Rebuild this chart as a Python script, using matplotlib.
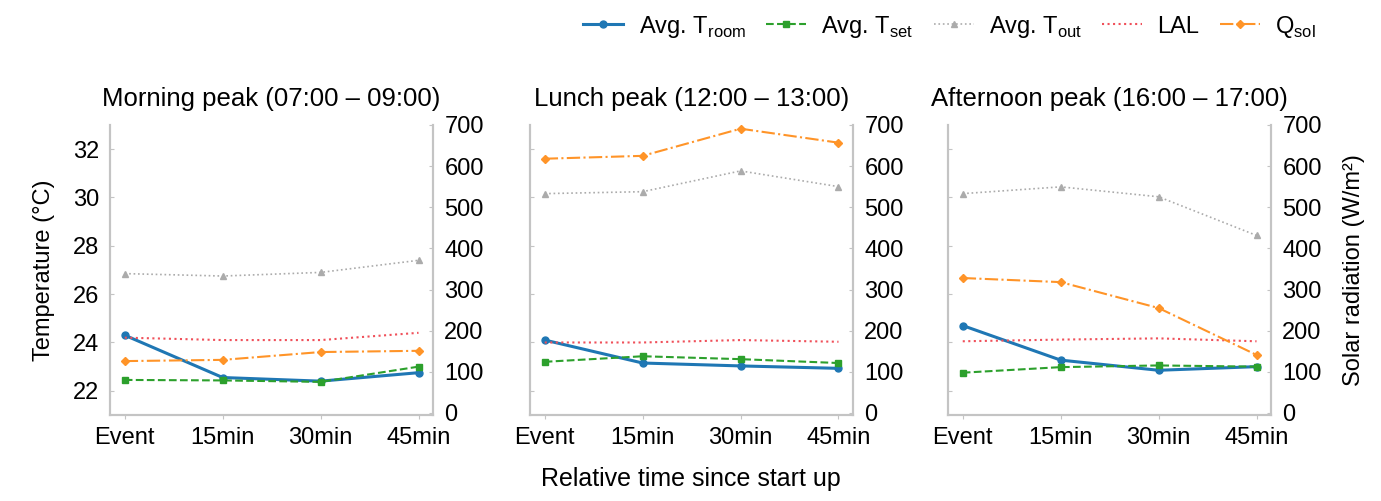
import matplotlib
matplotlib.use("Agg")
import matplotlib.pyplot as plt

plt.rcParams['font.family'] = ['Liberation Sans', 'DejaVu Sans']
plt.rcParams['mathtext.fontset'] = 'custom'
plt.rcParams['mathtext.rm'] = 'Liberation Sans'

steps = ["Event", "15min", "30min", "45min"]
titles = ["Morning peak (07:00 \u2013 09:00)",
          "Lunch peak (12:00 \u2013 13:00)",
          "Afternoon peak (16:00 \u2013 17:00)"]

# temperatures (degC), one list per peak
t_room = [[24.3, 22.55, 22.4, 22.75],
          [24.1, 23.15, 23.03, 22.93],
          [24.7, 23.27, 22.85, 23.0]]
t_set = [[22.45, 22.43, 22.37, 23.0],
         [23.2, 23.43, 23.31, 23.15],
         [22.75, 22.98, 23.05, 23.0]]
t_out = [[26.85, 26.75, 26.9, 27.4],
         [30.16, 30.24, 31.1, 30.45],
         [30.16, 30.44, 30.03, 28.43]]
lal = [[24.2, 24.1, 24.1, 24.4],
       [24.0, 24.0, 24.1, 24.03],
       [24.05, 24.12, 24.17, 24.05]]
# solar radiation (W/m2)
q_sol = [[126, 129, 148, 151],
         [618, 625, 691, 657],
         [328, 318, 255, 141]]

fig = plt.figure(figsize=(13.81, 5.01), dpi=100)
lefts = [0.0797, 0.3838, 0.6865]
spine_col = '#c4c4c4'
fs = 17

for i in range(3):
    ax = fig.add_axes([lefts[i], 0.1717, 0.234, 0.5788])
    ax2 = ax.twinx()
    x = range(len(steps))
    h1, = ax.plot(x, t_room[i], color='#1f77b4', lw=2.2, marker='o', ms=5,
                  label=r'Avg. T$_{\mathregular{room}}$')
    h2, = ax.plot(x, t_set[i], color='#2ca02c', lw=1.5, ls='--', marker='s', ms=4.5,
                  label=r'Avg. T$_{\mathregular{set}}$')
    h3, = ax.plot(x, t_out[i], color='#ababab', lw=1.2, ls=':', marker='^', ms=4.5,
                  label=r'Avg. T$_{\mathregular{out}}$')
    h4, = ax.plot(x, lal[i], color='#f0505a', lw=1.5, ls=':', label='LAL')
    h5, = ax2.plot(x, q_sol[i], color='#ff9428', lw=1.5, ls='-.', marker='D', ms=4.5,
                   label=r'Q$_{\mathregular{sol}}$')

    ax.set_xlim(-0.15, 3.15)
    ax.set_ylim(21, 33)
    ax.set_yticks([22, 24, 26, 28, 30, 32])
    ax2.set_ylim(-5, 700)
    ax2.set_yticks(range(0, 701, 100))
    ax.set_xticks(list(x))
    ax.set_xticklabels(steps, fontsize=fs)
    ax.set_title(titles[i], fontsize=18.5, pad=14)

    for a in (ax, ax2):
        a.spines['top'].set_visible(False)
        for s in ('left', 'right', 'bottom'):
            a.spines[s].set_color(spine_col)
            a.spines[s].set_linewidth(1.5)
        a.tick_params(axis='y', direction='in', length=3, color=spine_col,
                      labelsize=fs, pad=8)
    ax.tick_params(axis='x', direction='out', length=3, color=spine_col,
                   labelsize=fs, pad=6)
    if i > 0:
        ax.set_yticklabels([])
    if i == 0:
        ax.set_ylabel('Temperature (\u00b0C)', fontsize=fs, labelpad=13)
    if i == 2:
        ax2.set_ylabel('Solar radiation (W/m\u00b2)', fontsize=fs, labelpad=15)

handles = [h1, h2, h3, h4, h5]
fig.legend(handles=handles, loc='upper right', bbox_to_anchor=(0.968, 1.015),
           ncol=5, frameon=False, fontsize=17, handlelength=1.7,
           handletextpad=0.64, columnspacing=0.85)
fig.text(0.5, 0.03, 'Relative time since start up', ha='center', fontsize=18)

fig.savefig('out.png', dpi=100)
